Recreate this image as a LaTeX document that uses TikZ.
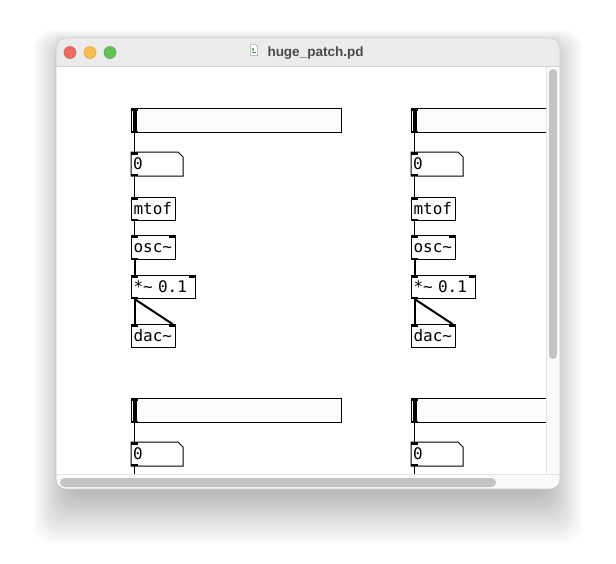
\documentclass[tikz,border=0pt]{standalone}
\usepackage{fontspec}
\setmainfont{Liberation Sans}
\newfontfamily\pdmono{DejaVu Sans Mono}
\usetikzlibrary{calc}
\definecolor{titlebg}{HTML}{EBEBEB}
\definecolor{titleline}{HTML}{D4D4D4}
\definecolor{titletext}{HTML}{4A4A4A}
\definecolor{trackbg}{HTML}{FAFAFA}
\definecolor{trackline}{HTML}{E4E4E4}
\definecolor{thumb}{HTML}{C4C4C4}
\definecolor{sliderbg}{HTML}{FCFCFC}
\definecolor{tlred}{HTML}{ED6A5E}
\definecolor{tlredb}{HTML}{D2524A}
\definecolor{tlyel}{HTML}{F5BF4F}
\definecolor{tlyelb}{HTML}{D9A13A}
\definecolor{tlgrn}{HTML}{61C554}
\definecolor{tlgrnb}{HTML}{4CA843}
\newcommand\pdfont{\pdmono\fontsize{16}{18}\selectfont}
\tikzset{
  pdbox/.style={draw=black, line width=1pt, fill=white, anchor=north west,
    inner xsep=2pt, inner ysep=0pt, minimum height=23pt,
    text height=12pt, text depth=2pt, font=\pdfont, align=left},
  pdnum/.style={anchor=north west, inner xsep=2pt, inner ysep=0pt,
    minimum height=24pt, text height=12pt, text depth=2pt, font=\pdfont,
    align=left, text width=48pt},
  pdslider/.style={draw=black, line width=1pt, fill=sliderbg, anchor=north west,
    inner sep=0pt, minimum width=210pt, minimum height=24pt},
  ctl/.style={draw=black, line width=1pt},
  sig/.style={draw=black, line width=2pt},
  light/.style={circle, minimum size=12pt, inner sep=0pt, line width=0.5pt},
}
\newcommand\pdinlet[1]{\fill[black] (#1.north west) rectangle ++(7,2.5);}
\newcommand\pdinletR[1]{\fill[black] (#1.north east) rectangle ++(-7,2.5);}
\newcommand\pdoutlet[1]{\fill[black] (#1.south west) rectangle ++(7,-2.5);}
% slider + number box
\newcommand\pdhead[3]{%
\begin{scope}[shift={(#1,#2)}]
  \node[pdslider] (sl#3) at (131,108) {};
  \fill[black] ([xshift=1.5pt]sl#3.north west) rectangle ([xshift=5.5pt]sl#3.south west);
  \pdinlet{sl#3}\pdoutlet{sl#3}
  \coordinate (nbc#3) at (131,152);
  \draw[line width=1pt, fill=white] (nbc#3) -- ++(47,0) -- ++(5,5) -- ++(0,19) -- ++(-52,0) -- cycle;
  \node[pdnum] (nb#3) at (nbc#3) {0};
  \pdinlet{nb#3}\pdoutlet{nb#3}
  \draw[ctl] ([xshift=3.5pt]sl#3.south west) -- ([xshift=3.5pt]nb#3.north west);
\end{scope}}
% rest of the chain
\newcommand\pdrest[3]{%
\begin{scope}[shift={(#1,#2)}]
  \node[pdbox, text width=40pt] (mt#3) at (131,197) {mtof};
  \pdinlet{mt#3}\pdoutlet{mt#3}
  \node[pdbox, text width=40pt, minimum height=24pt] (os#3) at (131,235) {osc\char`\~};
  \pdinlet{os#3}\pdinletR{os#3}\pdoutlet{os#3}
  \node[pdbox, text width=60pt] (mu#3) at (131,275) {*\char`\~{} 0.1};
  \pdinlet{mu#3}\pdinletR{mu#3}\pdoutlet{mu#3}
  \node[pdbox, text width=40pt] (dc#3) at (131,324) {dac\char`\~};
  \pdinlet{dc#3}\pdinletR{dc#3}
  \draw[ctl] ([xshift=3.5pt]nb#3.south west) -- ([xshift=3.5pt]mt#3.north west);
  \draw[ctl] ([xshift=3.5pt]mt#3.south west) -- ([xshift=3.5pt]os#3.north west);
  \draw[sig] ([xshift=3.5pt]os#3.south west) -- ([xshift=3.5pt]mu#3.north west);
  \draw[sig] ([xshift=3.5pt]mu#3.south west) -- ([xshift=3.5pt]dc#3.north west);
  \draw[sig] ([xshift=3.5pt]mu#3.south west) -- ([xshift=-3.5pt]dc#3.north east);
\end{scope}}
\begin{document}
\begin{tikzpicture}[x=1pt,y=-1pt]
\useasboundingbox (0,0) rectangle (616,563);
\fill[white] (0,0) rectangle (616,563);
% shadow
\foreach \i in {1,...,34}{
  \fill[black, opacity=0.008, rounded corners=18pt] (68-\i,50-\i*0.6) rectangle (548+\i,492+\i*1.55);
}
% window
\fill[white, rounded corners=10pt] (56,38) rectangle (560,489);
\begin{scope}
  \clip[rounded corners=10pt] (56,38) rectangle (560,489);
  \fill[titlebg] (56,38) rectangle (560,66.5);
  \draw[titleline, line width=1pt] (56,66.5) -- (560,66.5);
  % content
  \begin{scope}
    \clip (56,67) rectangle (546,474);
    \pdhead{0}{0}{a}\pdrest{0}{0}{a}
    \pdhead{280}{0}{b}\pdrest{280}{0}{b}
    \pdhead{0}{290}{c}
    \pdhead{280}{290}{d}
    \coordinate (endc) at (134.5,480);
    \coordinate (endd) at (414.5,480);
    \draw[ctl] ([xshift=3.5pt]nbc.south west) -- (endc);
    \draw[ctl] ([xshift=3.5pt]nbd.south west) -- (endd);
  \end{scope}
  % scrollbars
  \fill[trackbg] (546,67) rectangle (560,474);
  \draw[trackline, line width=1pt] (546,67) -- (546,474);
  \fill[thumb, rounded corners=4pt] (549,69) rectangle (557,359);
  \fill[trackbg] (56,474) rectangle (560,489);
  \draw[trackline, line width=1pt] (56,474) -- (560,474);
  \fill[thumb, rounded corners=4.5pt] (60,478) rectangle (496,487);
\end{scope}
\draw[black!22, line width=0.6pt, rounded corners=10pt] (56,38) rectangle (560,489);
% traffic lights
\node[light, fill=tlred, draw=tlredb] (close) at (70,52.5) {};
\node[light, fill=tlyel, draw=tlyelb] (mini) at (90,52.5) {};
\node[light, fill=tlgrn, draw=tlgrnb] (zoom) at (110,52.5) {};
% title
\node[anchor=base, inner sep=0pt, text=titletext, font=\bfseries\fontsize{13.5}{16}\selectfont] (title) at (315.5,56.3) {huge\_patch.pd};
% document icon
\draw[black!35, fill=white, line width=0.5pt] (250.5,44.5) -- (255.5,44.5) -- (257.5,46.5) -- (257.5,55.5) -- (250.5,55.5) -- cycle;
\fill[tlgrn] (252,48) rectangle (254,51);
\fill[black!55] (252,51.5) rectangle (256,52.5);
\end{tikzpicture}
\end{document}
